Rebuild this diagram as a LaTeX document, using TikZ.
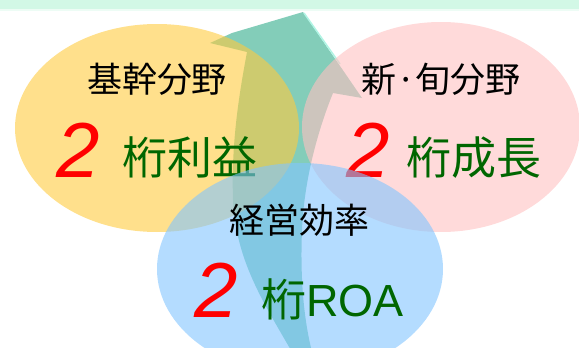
\documentclass[tikz,border=0pt]{standalone}
\usepackage{fontspec}
\setmainfont{Noto Sans CJK JP}
\newfontfamily\latinfont{Liberation Sans}
\usetikzlibrary{positioning}

\definecolor{bandgreen}{HTML}{D2F8E6}
\definecolor{arrowteal}{HTML}{83CDB9}
\definecolor{arrowlight}{HTML}{B0F4E4}
\definecolor{ringyellow}{HTML}{FFCB3F}
\definecolor{ringpink}{HTML}{FFC1C1}
\definecolor{ringblue}{HTML}{82C5FF}
\definecolor{textgreen}{HTML}{006600}

\begin{document}
\begin{tikzpicture}[
x=1pt, y=-1pt,
ring/.style={fill opacity=0.6, draw=none},
field/.style={inner sep=0pt, font=\fontsize{35}{35}\selectfont, text=black},
digit/.style={inner sep=0pt, font=\latinfont\itshape\fontsize{78}{78}\selectfont, text=red},
gain/.style={inner sep=0pt, font=\fontsize{45}{45}\selectfont, text=textgreen}
]
\useasboundingbox (0,0) rectangle (579,348);

% top band
\fill[bandgreen] (0,0) rectangle (579,9);
\fill[bandgreen!40] (0,9) rectangle (579,11);

% curved arrow behind the rings
\fill[arrowteal] (210,43) -- (232,33) -- (303,12) -- (362,98) -- (333,93)
  .. controls (318,130) and (304,180) .. (302,230)
  .. controls (300,280) and (304,320) .. (312,352)
  -- (292,352)
  .. controls (262,300) and (236,260) .. (233,200)
  .. controls (231,140) and (240,90) .. (247,52) -- cycle;
\draw[arrowlight, line width=1.5pt] (304,13) -- (340,64);

% core business
\fill[ring, ringyellow] (157,128) ellipse [x radius=142pt, y radius=104pt];
\node[field] (core) at (157,79) {基幹分野};
\node[digit, anchor=base west] (coretwo) at (56,177) {2};
\node[gain, anchor=base west] (coregain) at (122,174) {桁利益};

% new business
\fill[ring, ringpink] (441,127) ellipse [x radius=139pt, y radius=105pt];
\node[field] (fresh) at (441,79) {新·旬分野};
\node[digit, anchor=base west] (freshtwo) at (346,177) {2};
\node[gain, anchor=base west] (freshgain) at (406,174) {桁成長};

% efficiency
\fill[ring, ringblue] (300,269) ellipse [x radius=143pt, y radius=106pt];
\node[field] (eff) at (299,220) {経営効率};
\node[digit, anchor=base west] (efftwo) at (194,317) {2};
\node[gain, anchor=base west] (effgain) at (261,316) {桁{\latinfont ROA}};
\end{tikzpicture}
\end{document}
